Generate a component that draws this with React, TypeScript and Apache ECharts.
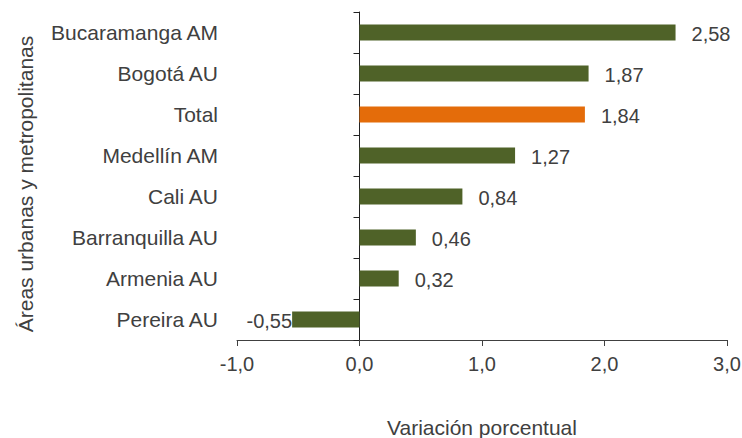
import React, { useEffect, useRef } from "react";
import * as echarts from "echarts";

const categories = [
  "Bucaramanga AM",
  "Bogotá AU",
  "Total",
  "Medellín AM",
  "Cali AU",
  "Barranquilla AU",
  "Armenia AU",
  "Pereira AU",
];
const values = [2.58, 1.87, 1.84, 1.27, 0.84, 0.46, 0.32, -0.55];
const highlight = "Total";
const xTicks = { min: -1, max: 3, interval: 1 };
const xAxisName = "Variación porcentual";
const yAxisName = "Áreas urbanas y metropolitanas";

const GREEN = "#4f6228";
const ORANGE = "#e46c0a";
const TEXT = "#404040";
const FONT = "'Liberation Sans', Arial, sans-serif";
const FS = 20;
const FS_CAT = 21;

const fmt = (v: number, d: number) => v.toFixed(d).replace(".", ",");

export default function App() {
  const ref = useRef<HTMLDivElement>(null);
  useEffect(() => {
    if (!ref.current) return;
    const chart = echarts.init(ref.current, null, { renderer: "svg" });
    chart.setOption({
      animation: false,
      backgroundColor: "#ffffff",
      grid: { left: 237, right: 15, top: 12, bottom: 98, outerBoundsMode: "none" },
      xAxis: {
        type: "value",
        min: xTicks.min,
        max: xTicks.max,
        interval: xTicks.interval,
        name: xAxisName,
        nameLocation: "middle",
        nameGap: 77,
        nameTextStyle: { color: TEXT, fontSize: FS_CAT, fontFamily: FONT },
        axisLine: { show: true, onZero: false, lineStyle: { color: TEXT, width: 1 } },
        axisTick: { show: true, length: 6, lineStyle: { color: TEXT } },
        splitLine: { show: false },
        axisLabel: {
          color: TEXT,
          fontSize: FS,
          fontFamily: FONT,
          margin: 14,
          formatter: (v: number) => fmt(v, 1),
        },
      },
      yAxis: {
        type: "category",
        inverse: true,
        data: categories,
        axisLine: { show: true, onZero: true, lineStyle: { color: "#222", width: 1 } },
        axisTick: { show: true, length: 6, lineStyle: { color: "#222" } },
        axisLabel: {
          color: TEXT,
          fontSize: FS_CAT,
          fontFamily: FONT,
          margin: 19,
        },
      },
      graphic: [
        {
          type: "text",
          x: 25,
          y: 184,
          rotation: Math.PI / 2,
          style: {
            text: yAxisName,
            align: "center",
            verticalAlign: "middle",
            fill: TEXT,
            fontSize: FS_CAT,
            fontFamily: FONT,
          },
        },
      ],
      series: [
        {
          type: "bar",
          barWidth: 16,
          data: values.map((v, i) => ({
            value: v,
            itemStyle: { color: categories[i] === highlight ? ORANGE : GREEN },
            label: {
              show: true,
              position: v >= 0 ? "right" : "left",
              distance: v >= 0 ? 16 : 0,
              offset: [0, 1.5],
              color: TEXT,
              fontSize: FS,
              fontFamily: FONT,
              formatter: () => fmt(v, 2),
            },
          })),
        },
      ],
    });
    return () => chart.dispose();
  }, []);
  return (
    <div
      ref={ref}
      style={{ position: "fixed", left: 0, top: 0, width: 742, height: 438 }}
    />
  );
}
